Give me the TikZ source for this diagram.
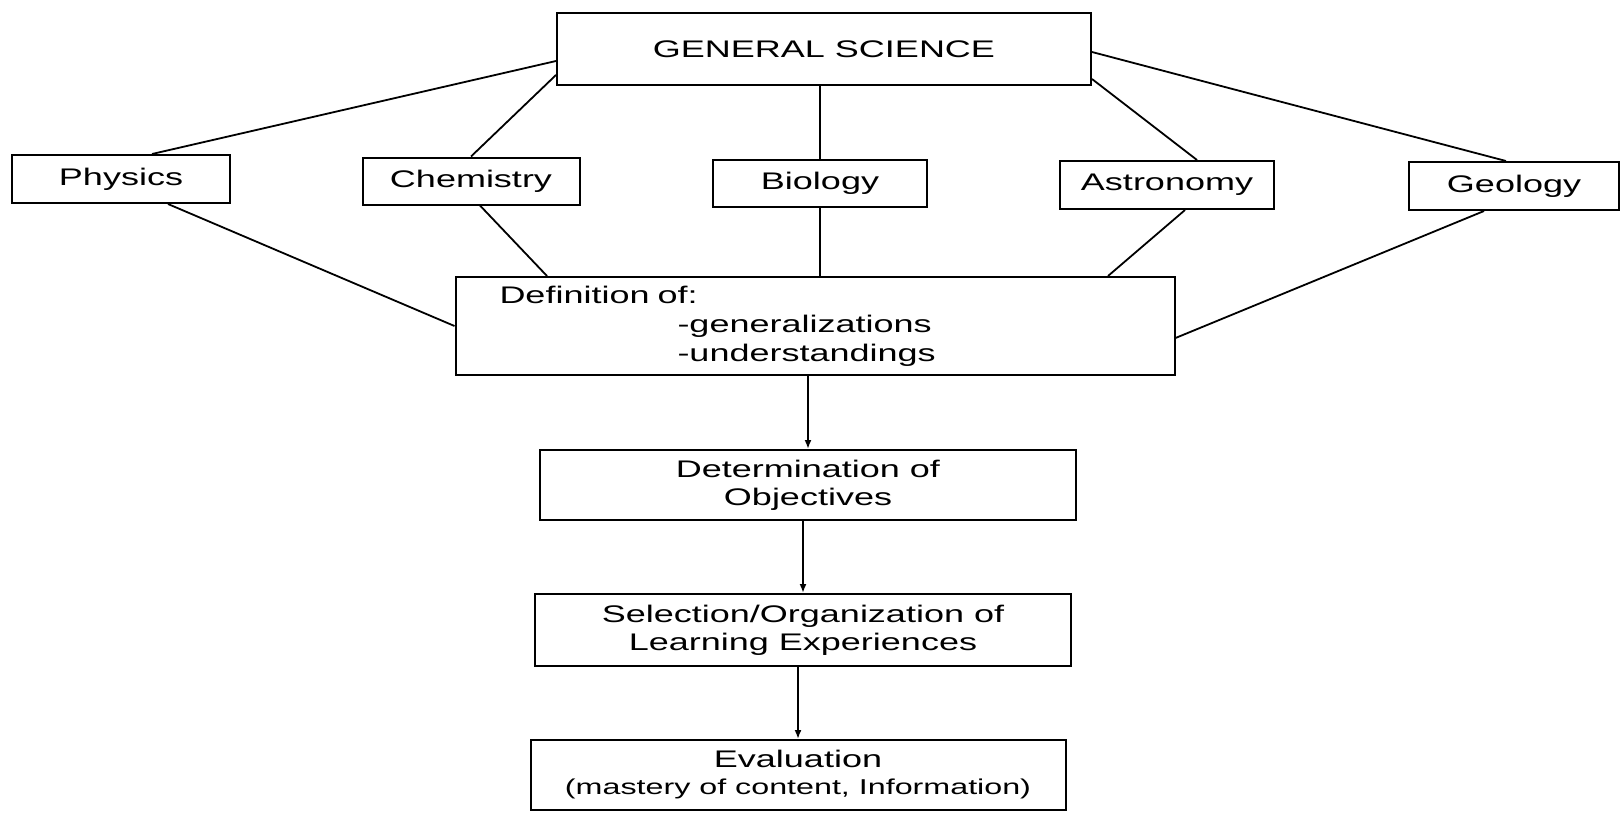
\documentclass[tikz,border=0pt]{standalone}
\usepackage{fontspec}
\setmainfont{Liberation Sans}[FakeStretch=1.5]
\usetikzlibrary{arrows.meta}

\begin{document}
\begin{tikzpicture}[
  x=1pt, y=-1pt,
  snode/.style={draw,rectangle,line width=2pt,inner sep=0pt,align=center,
    font=\fontsize{24}{28}\selectfont},
  link/.style={line width=1.8pt},
  flow/.style={line width=1.8pt,-{Latex[length=9pt,width=7pt]}}
]
  \useasboundingbox (0,0) rectangle (1622,812);

  % top
  \node[snode,minimum width=534pt,minimum height=72pt] (gs) at (824,49) {GENERAL SCIENCE};

  % subjects
  \node[snode,minimum width=218pt,minimum height=48pt] (phys) at (121,179) {Physics};
  \node[snode,minimum width=217pt,minimum height=47pt] (chem) at (471,181) {Chemistry};
  \node[snode,minimum width=214pt,minimum height=47pt] (bio) at (820,183) {Biology};
  \node[snode,minimum width=214pt,minimum height=48pt] (astr) at (1167,185) {Astronomy};
  \node[snode,minimum width=210pt,minimum height=48pt] (geol) at (1514,186) {Geology};

  % steps
  \node[snode,align=left,text width=631pt,inner xsep=44pt,minimum height=98pt,
    font=\fontsize{24}{29}\selectfont] (def) at (815,326)
    {Definition of:\\\hspace*{178pt}-generalizations\\\hspace*{178pt}-understandings};
  \node[snode,minimum width=536pt,minimum height=70pt] (det) at (808,485) {Determination of\\Objectives};
  \node[snode,minimum width=536pt,minimum height=72pt] (sel) at (803,630) {Selection/Organization of\\Learning Experiences};
  \node[snode,minimum width=535pt,minimum height=70pt] (eval) at (798,775)
    {Evaluation\\[-1pt]{\fontsize{21.5}{24}\selectfont(mastery of content, Information)}};

  % top edges
  \draw[link] ([yshift=-12pt]gs.west) -- ([xshift=31pt]phys.north);
  \draw[link] ([yshift=-26pt]gs.west) -- (chem.north);
  \draw[link] (bio.north |- gs.south) -- (bio.north);
  \draw[link] ([yshift=-30pt]gs.east) -- ([xshift=30pt]astr.north);
  \draw[link] ([yshift=-3pt]gs.east) -- ([xshift=-8pt]geol.north);

  % lower edges
  \draw[link] ([xshift=47pt]phys.south) -- (def.west);
  \draw[link] ([xshift=9pt]chem.south) -- ([xshift=-268pt]def.north);
  \draw[link] (bio.south) -- (bio.south |- def.north);
  \draw[link] ([xshift=18pt]astr.south) -- ([xshift=293pt]def.north);
  \draw[link] ([xshift=-30pt]geol.south) -- ([yshift=-12pt]def.east);

  % flow arrows
  \draw[flow] (det.north |- def.south) -- (det.north);
  \draw[flow] (sel.north |- det.south) -- (sel.north);
  \draw[flow] (eval.north |- sel.south) -- (eval.north);

\end{tikzpicture}
\end{document}
